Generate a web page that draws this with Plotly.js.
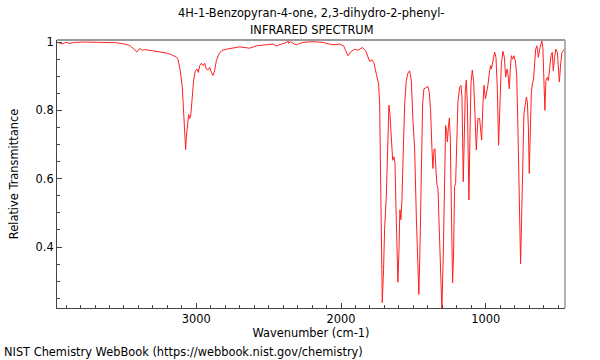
<!DOCTYPE html>
<html>
<head>
<meta charset="utf-8">
<script src="https://cdn.plot.ly/plotly-3.0.1.min.js"></script>
<style>html,body{margin:0;padding:0;background:#fff;}#chart{width:600px;height:360px;}</style>
</head>
<body>
<div id="chart"></div>
<script>
const titleLine1 = "4H-1-Benzopyran-4-one, 2,3-dihydro-2-phenyl-";
const titleLine2 = "INFRARED SPECTRUM";
const xTitle = "Wavenumber (cm-1)";
const yTitle = "Relative Transmittance";
const credit = "NIST Chemistry WebBook (https://webbook.nist.gov/chemistry)";
const xTickVals = [3000, 2000, 1000];
const yTickVals = [0.4, 0.6, 0.8, 1];

const wavenumber = [3963,3945,3924,3903,3876,3841,3772,3668,3551,3496,3461,3433,3411,3392,3371,3357,3300,3254,3207,3171,3138,3127,3111,3097,3088,3079,3074,3069,3060,3053,3046,3039,3030,3019,3007,2996,2986,2977,2965,2954,2943,2931,2920,2908,2896,2885,2874,2862,2844,2825,2793,2747,2701,2632,2585,2516,2471,2447,2402,2374,2367,2360,2350,2332,2309,2263,2194,2125,2102,2056,2010,1982,1968,1952,1929,1906,1883,1853,1830,1814,1802,1786,1773,1756,1740,1733,1726,1721,1715,1706,1699,1687,1676,1669,1662,1652,1643,1634,1627,1621,1611,1607,1600,1593,1586,1579,1569,1560,1549,1538,1526,1514,1503,1491,1479,1468,1462,1455,1445,1436,1427,1411,1399,1390,1381,1372,1365,1358,1351,1344,1337,1330,1321,1312,1303,1293,1284,1277,1270,1265,1258,1251,1245,1238,1229,1222,1215,1208,1201,1192,1180,1171,1164,1160,1155,1148,1141,1134,1127,1120,1116,1109,1102,1093,1084,1077,1065,1054,1042,1035,1028,1019,1012,1002,993,985,973,966,961,950,938,929,920,911,902,892,881,871,862,853,846,837,830,823,814,805,795,786,777,768,759,752,743,736,726,719,712,705,699,692,685,678,669,662,655,646,636,627,618,612,605,598,591,584,574,567,558,549,540,533,524,515,505,498,491,482,473,463,456,452];
const transmittance = [0.999,0.998,0.995,0.999,0.996,0.999,1.000,0.999,0.998,0.994,0.990,0.980,0.971,0.981,0.976,0.978,0.975,0.972,0.968,0.963,0.956,0.950,0.916,0.868,0.800,0.722,0.685,0.722,0.771,0.788,0.776,0.783,0.829,0.887,0.916,0.921,0.911,0.931,0.938,0.931,0.938,0.921,0.918,0.926,0.911,0.902,0.916,0.945,0.965,0.975,0.979,0.982,0.986,0.982,0.989,0.992,0.994,0.989,0.994,0.999,1.004,0.996,1.002,0.996,0.992,0.999,1.001,0.999,0.996,0.992,0.994,0.989,0.975,0.960,0.973,0.979,0.976,0.984,0.975,0.955,0.943,0.948,0.940,0.906,0.877,0.819,0.625,0.431,0.237,0.334,0.451,0.548,0.771,0.815,0.790,0.693,0.654,0.664,0.645,0.528,0.334,0.297,0.383,0.509,0.480,0.538,0.693,0.819,0.887,0.909,0.916,0.887,0.771,0.684,0.480,0.295,0.261,0.383,0.674,0.819,0.863,0.868,0.870,0.853,0.800,0.693,0.630,0.684,0.688,0.625,0.582,0.572,0.431,0.286,0.215,0.383,0.645,0.756,0.737,0.708,0.751,0.778,0.722,0.528,0.295,0.383,0.577,0.586,0.722,0.824,0.868,0.873,0.839,0.674,0.591,0.722,0.858,0.889,0.819,0.645,0.538,0.722,0.877,0.918,0.887,0.819,0.684,0.776,0.776,0.742,0.713,0.819,0.873,0.834,0.853,0.873,0.916,0.931,0.921,0.945,0.970,0.955,0.868,0.698,0.819,0.936,0.973,0.955,0.897,0.921,0.906,0.863,0.921,0.960,0.950,0.960,0.945,0.906,0.742,0.528,0.351,0.480,0.664,0.790,0.819,0.839,0.824,0.751,0.615,0.771,0.848,0.877,0.892,0.936,0.979,0.989,0.955,0.979,0.999,1.004,0.984,0.906,0.800,0.887,0.897,0.887,0.916,0.960,0.970,0.916,0.955,0.979,0.970,0.926,0.883,0.936,0.970,0.975,0.979,0.981];

const font = {family: "DejaVu Sans, sans-serif", size: 11.4, color: "#000"};

const trace = {
  x: wavenumber, y: transmittance, type: "scatter", mode: "lines",
  line: {color: "#ff2020", width: 1}, hoverinfo: "skip"
};

const layout = {
  width: 600, height: 360,
  margin: {l: 57, r: 35, t: 40, b: 52},
  paper_bgcolor: "#fff", plot_bgcolor: "#fff",
  font: font,
  showlegend: false,
  xaxis: {
    range: [3963, 452], showgrid: false, zeroline: false,
    showline: true, linecolor: "#444", linewidth: 1,
    ticks: "inside", ticklen: 5, tickcolor: "#444", tickwidth: 1,
    tickvals: xTickVals, ticktext: xTickVals.map(String),
    minor: {dtick: 100, tick0: 0, ticks: "inside", ticklen: 3, tickcolor: "#444", showgrid: false},
    title: {text: xTitle, font: font, standoff: 4},
    tickfont: font
  },
  yaxis: {
    range: [0.2215, 1.006], showgrid: false, zeroline: false,
    showline: true, linecolor: "#444", linewidth: 1,
    ticks: "inside", ticklen: 5, tickcolor: "#444", tickwidth: 1,
    tickvals: yTickVals, ticktext: ["0.4", "0.6", "0.8", "1"],
    minor: {dtick: 0.05, tick0: 0, ticks: "inside", ticklen: 3, tickcolor: "#444", showgrid: false},
    title: {text: yTitle, font: font, standoff: 14},
    tickfont: font
  },
  shapes: [
    {type: "line", xref: "paper", yref: "paper", x0: 0, x1: 1, y0: 1, y1: 1, line: {color: "#999", width: 2}},
    {type: "line", xref: "paper", yref: "paper", x0: 1, x1: 1, y0: 0, y1: 1, line: {color: "#999", width: 1.5}}
  ],
  annotations: [
    {text: titleLine1, xref: "paper", yref: "paper", x: 0.5, y: 1.1007, xanchor: "center", yanchor: "middle", showarrow: false, font: font},
    {text: titleLine2, xref: "paper", yref: "paper", x: 0.5, y: 1.0373, xanchor: "center", yanchor: "middle", showarrow: false, font: font},
    {text: credit, xref: "paper", yref: "paper", x: -0.108, y: -0.164, xanchor: "left", yanchor: "middle", showarrow: false, font: font}
  ]
};

Plotly.newPlot("chart", [trace], layout, {staticPlot: true, displayModeBar: false});
</script>
</body>
</html>
